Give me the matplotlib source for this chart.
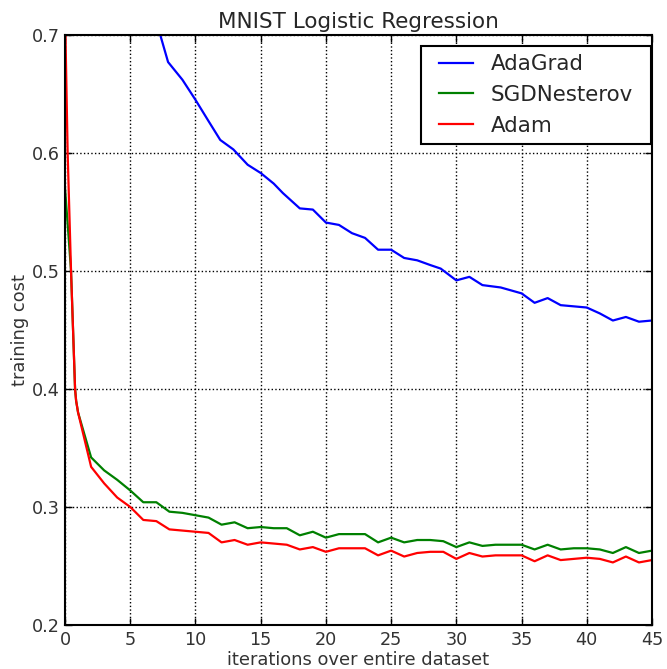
import matplotlib
matplotlib.use('Agg')
import matplotlib.pyplot as plt

# valores
epocas = [0, 1, 2, 3, 4, 5, 6, 7, 8, 9, 10, 11, 12, 13, 14, 15, 16, 17, 18, 19, 20, 21, 22,
          23, 24, 25, 26, 27, 28, 29, 30, 31, 32, 33, 34, 35, 36, 37, 38, 39, 40, 41, 42,
          43, 44, 45]

# AdaGrad comeca acima de 0.7
adagrad_x = [6.5, 7.3, 7.9, 9, 10, 11, 11.9, 12.9, 14, 15, 16, 16.7, 18, 19, 20, 21, 22,
             23, 24, 25, 26, 27, 28, 28.8, 30, 31, 32, 33.4, 35, 36, 37, 38, 39, 40, 41,
             42, 43, 44, 45]
adagrad = [0.73, 0.70, 0.677, 0.662, 0.645, 0.627, 0.611, 0.603, 0.590, 0.583, 0.574,
           0.566, 0.553, 0.552, 0.541, 0.539, 0.532, 0.528, 0.518, 0.518, 0.511, 0.509,
           0.505, 0.502, 0.492, 0.495, 0.488, 0.486, 0.481, 0.473, 0.477, 0.471, 0.470,
           0.469, 0.464, 0.458, 0.461, 0.457, 0.458]

inicio_x = [0, 0.2, 0.46, 0.77, 0.85]
sgd_inicio = [0.57, 0.54, 0.50, 0.40, 0.39]
adam_inicio = [0.72, 0.60, 0.50, 0.40, 0.39]

sgd = [0.380, 0.342, 0.331, 0.323, 0.314, 0.304, 0.304, 0.296, 0.295, 0.293, 0.291, 0.285,
       0.287, 0.282, 0.283, 0.282, 0.282, 0.276, 0.279, 0.274, 0.277, 0.277, 0.277, 0.270,
       0.274, 0.270, 0.272, 0.272, 0.271, 0.266, 0.270, 0.267, 0.268, 0.268, 0.268, 0.264,
       0.268, 0.264, 0.265, 0.265, 0.264, 0.261, 0.266, 0.261, 0.263]
adam = [0.380, 0.334, 0.320, 0.308, 0.300, 0.289, 0.288, 0.281, 0.280, 0.279, 0.278, 0.270,
        0.272, 0.268, 0.270, 0.269, 0.268, 0.264, 0.266, 0.262, 0.265, 0.265, 0.265, 0.259,
        0.263, 0.258, 0.261, 0.262, 0.262, 0.256, 0.261, 0.258, 0.259, 0.259, 0.259, 0.254,
        0.259, 0.255, 0.256, 0.257, 0.256, 0.253, 0.258, 0.253, 0.255]

sgd_x = inicio_x + epocas[1:]
sgd_y = sgd_inicio + sgd
adam_y = adam_inicio + adam

fig = plt.figure(figsize=(6.67, 6.69), dpi=100)
ax = fig.add_axes([0.0975, 0.0658, 0.88, 0.882])

ax.plot(adagrad_x, adagrad, color='b', lw=1.6, label='AdaGrad')
ax.plot(sgd_x, sgd_y, color='g', lw=1.6, label='SGDNesterov')
ax.plot(sgd_x, adam_y, color='r', lw=1.6, label='Adam')

ax.set_xlim(0, 45)
ax.set_ylim(0.2, 0.7)
ax.set_xticks(range(0, 46, 5))
ax.set_yticks([0.2, 0.3, 0.4, 0.5, 0.6, 0.7])
ax.tick_params(direction='in', top=True, right=True, labelsize=12.7, length=5, width=1,
               pad=4, labelcolor='0.2')
for s in ax.spines.values():
    s.set_linewidth(1.5)

ax.grid(True, color='k', ls=':', lw=1)
ax.set_title('MNIST Logistic Regression', fontsize=15.5, pad=5, color='0.15')
ax.set_xlabel('iterations over entire dataset', fontsize=12.9, labelpad=2, color='0.2')
ax.set_ylabel('training cost', fontsize=12.9, labelpad=2, color='0.2')

leg = ax.legend(loc='upper right', fontsize=15.4, fancybox=False, framealpha=1,
                edgecolor='k', handlelength=1.6, borderaxespad=0.5)
for t in leg.get_texts():
    t.set_color('0.15')
# moldura mais larga só na horizontal
frame = leg.get_frame()
frame.set_linewidth(1.5)
frame.set_boxstyle('square', pad=0.45)
frame.set_mutation_aspect(0.01)

plt.savefig('out.png', dpi=100)
